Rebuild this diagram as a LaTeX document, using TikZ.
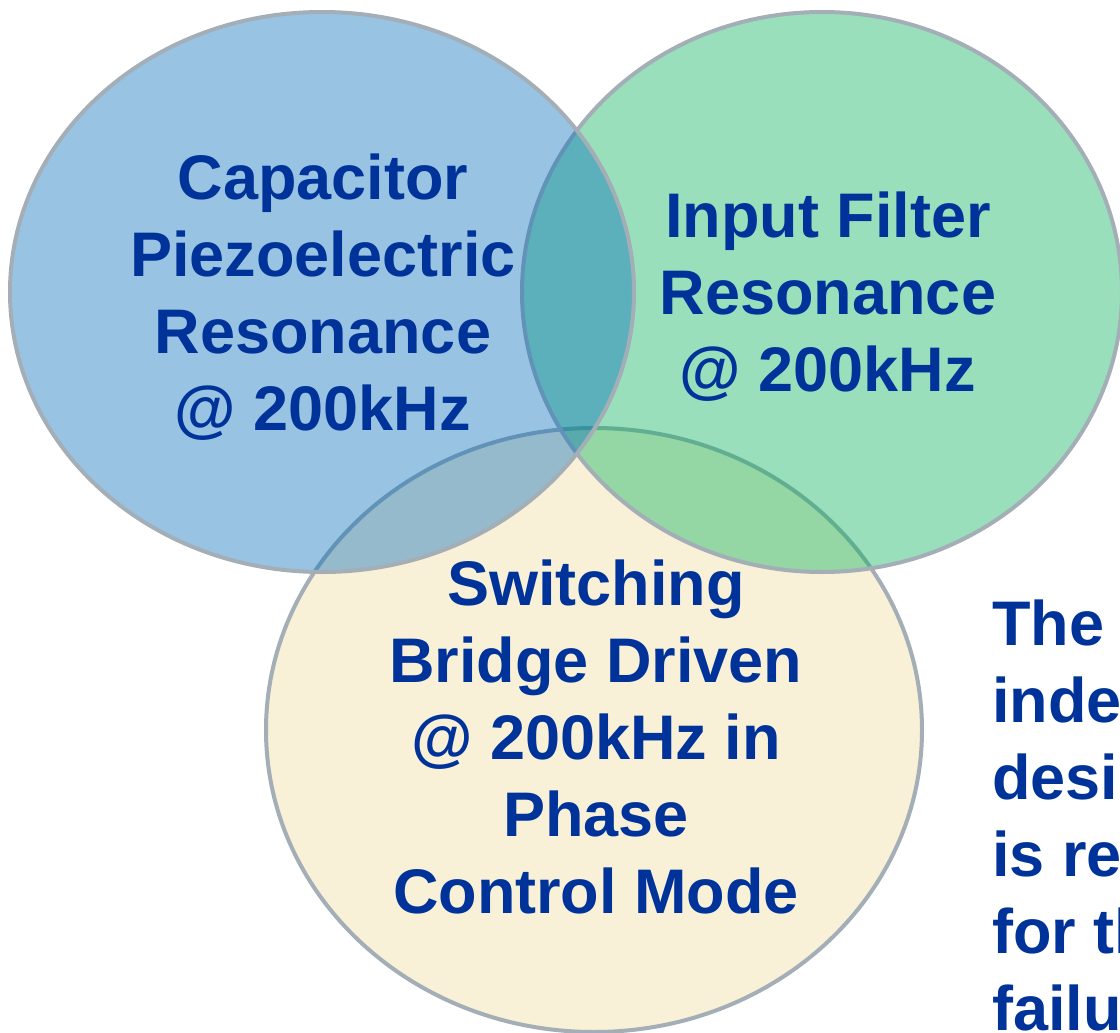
\documentclass[tikz,border=0pt]{standalone}
\usepackage{fontspec}
\setmainfont{Liberation Sans}
\usepackage{xcolor}
\usepackage{tikz}
\usetikzlibrary{positioning}
\definecolor{bluex}{HTML}{0069B9}
\definecolor{greenx}{HTML}{00AF58}
\definecolor{creamx}{HTML}{F8F0D7}
\definecolor{inkx}{HTML}{003399}
\definecolor{rimx}{HTML}{A3AEB6}
\tikzset{
  venn/.style={draw=rimx,line width=4pt},
  see/.style={venn,fill opacity=0.4},
  lbl/.style={inkx,align=center,inner sep=0pt,font=\bfseries\fontsize{63}{77}\selectfont},
  side/.style={lbl,align=left,anchor=north west}
}
\begin{document}
\begin{tikzpicture}[x=1pt,y=-1pt]
\path[use as bounding box,clip] (0,0) rectangle (1120,1033);
\draw[venn,fill=creamx] (594,730) ellipse [x radius=328pt,y radius=302pt];
\draw[see,fill=greenx] (822,292) ellipse [x radius=300pt,y radius=280pt];
\draw[see,fill=bluex] (322,292) ellipse [x radius=312pt,y radius=280pt];
\node[lbl] (cap) at (323,297) {Capacitor\\Piezoelectric\\Resonance\\@ 200kHz};
\node[lbl] (filt) at (828,297) {Input Filter\\Resonance\\@ 200kHz};
\node[lbl] (sw) at (596,737) {Switching\\Bridge Driven\\@ 200kHz in\\Phase\\Control Mode};
\node[side] (note) at (992,600) {The\\inde\\desi\\is re\\for th\\failu};
\end{tikzpicture}
\end{document}
